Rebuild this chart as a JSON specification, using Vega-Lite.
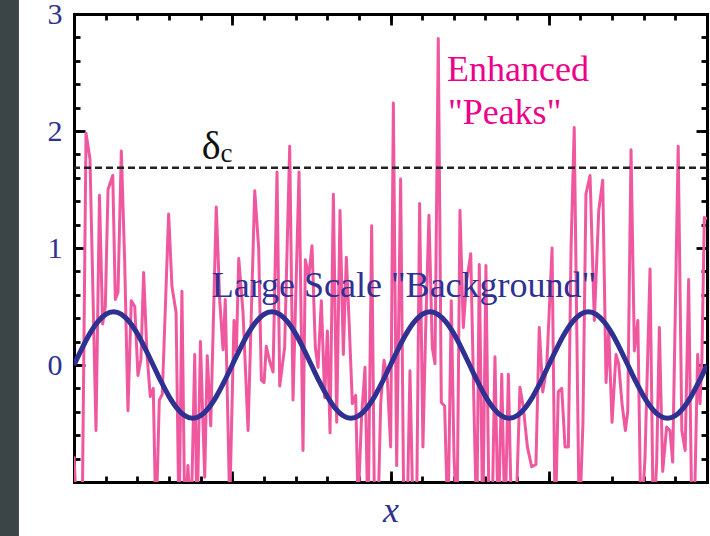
{
  "$schema": "https://vega.github.io/schema/vega-lite/v6.json",
  "width": 633,
  "height": 468,
  "autosize": {"type": "none"},
  "padding": {"left": 74, "top": 14, "right": 3, "bottom": 54},
  "background": "white",
  "config": {
    "view": {"stroke": null},
    "axis": {"grid": false, "domain": false, "labelFont": "Liberation Serif", "titleFont": "Liberation Serif", "tickColor": "black", "tickWidth": 2.8, "zindex": 1}
  },
  "resolve": {"axis": {"x": "independent", "y": "independent"}},
  "layer": [
    {
      "data": {"values": [{"left": -0.468, "right": -0.348, "low": -1.5, "high": 3.2}]},
      "mark": {"type": "rect", "color": "#3b4447", "clip": false},
      "encoding": {
        "x": {"field": "left", "type": "quantitative", "scale": {"domain": [0, 4], "nice": false, "zero": false},
          "axis": {"orient": "bottom", "values": [0, 1, 2, 3, 4], "tickSize": -11, "labels": false, "domain": true, "domainWidth": 3, "domainColor": "black", "domainCap": "square", "title": "x", "titleFontStyle": "italic", "titleFontWeight": "normal", "titleFontSize": 36, "titleColor": "#2E3192", "titlePadding": 10}},
        "x2": {"field": "right"},
        "y": {"field": "low", "type": "quantitative", "scale": {"domain": [-1, 3], "nice": false, "zero": false},
          "axis": {"orient": "left", "values": [0, 1, 2, 3], "tickSize": -11, "labelPadding": 23, "labelFontSize": 30, "labelColor": "#2E3192", "domain": true, "domainWidth": 3, "domainColor": "black", "domainCap": "square", "title": null}},
        "y2": {"field": "high"}
      }
    },
    {
      "data": {"values": [
        {"x": 0, "d": -0.78}, {"x": 0.022, "d": -1.4}, {"x": 0.051, "d": -1.4}, {"x": 0.076, "d": 1.98}, {"x": 0.101, "d": 1.76},
        {"x": 0.139, "d": -0.56}, {"x": 0.161, "d": 1.45}, {"x": 0.181, "d": 0.35}, {"x": 0.198, "d": 0.5}, {"x": 0.215, "d": 1.5},
        {"x": 0.245, "d": 1.62}, {"x": 0.261, "d": 0.56}, {"x": 0.278, "d": 0.62}, {"x": 0.299, "d": 1.83}, {"x": 0.32, "d": 0.9},
        {"x": 0.341, "d": -0.39}, {"x": 0.362, "d": 0.55}, {"x": 0.384, "d": 0.5}, {"x": 0.404, "d": -0.09}, {"x": 0.423, "d": 0.05},
        {"x": 0.44, "d": 0.79}, {"x": 0.461, "d": 0.1}, {"x": 0.482, "d": -0.27}, {"x": 0.501, "d": -0.2}, {"x": 0.518, "d": -1.4},
        {"x": 0.539, "d": -0.3}, {"x": 0.558, "d": -0.25}, {"x": 0.598, "d": 1.29}, {"x": 0.619, "d": 0.67}, {"x": 0.645, "d": 0.45},
        {"x": 0.664, "d": -1.4}, {"x": 0.682, "d": 0.63}, {"x": 0.701, "d": -1.4}, {"x": 0.72, "d": -0.86}, {"x": 0.739, "d": -1.4},
        {"x": 0.763, "d": 0.09}, {"x": 0.777, "d": -1.4}, {"x": 0.799, "d": 0.2}, {"x": 0.826, "d": -0.96}, {"x": 0.842, "d": 0.08},
        {"x": 0.864, "d": -0.52}, {"x": 0.899, "d": 1.35}, {"x": 0.921, "d": 0.55}, {"x": 0.942, "d": 0.13}, {"x": 0.956, "d": 0.56},
        {"x": 0.984, "d": -1.2}, {"x": 1.011, "d": 0.38}, {"x": 1.026, "d": 0.12}, {"x": 1.041, "d": 0.91}, {"x": 1.068, "d": 0.45},
        {"x": 1.1, "d": -0.56}, {"x": 1.142, "d": 1.49}, {"x": 1.167, "d": 1.0}, {"x": 1.184, "d": -0.13}, {"x": 1.201, "d": -0.15},
        {"x": 1.215, "d": 0.16}, {"x": 1.237, "d": 0.03}, {"x": 1.258, "d": -0.06}, {"x": 1.283, "d": 1.65}, {"x": 1.3, "d": -0.18},
        {"x": 1.331, "d": 0.15}, {"x": 1.363, "d": 1.87}, {"x": 1.384, "d": -0.3}, {"x": 1.422, "d": 1.65}, {"x": 1.447, "d": -0.73},
        {"x": 1.462, "d": 0.9}, {"x": 1.483, "d": 0.75}, {"x": 1.504, "d": 1.02}, {"x": 1.525, "d": 0.15}, {"x": 1.542, "d": -0.02},
        {"x": 1.563, "d": 0.55}, {"x": 1.584, "d": -0.28}, {"x": 1.601, "d": 0.29}, {"x": 1.618, "d": -0.58}, {"x": 1.639, "d": 1.46},
        {"x": 1.66, "d": -0.49}, {"x": 1.681, "d": 1.32}, {"x": 1.702, "d": 0.09}, {"x": 1.721, "d": 0.92}, {"x": 1.738, "d": 0.38},
        {"x": 1.759, "d": -0.33}, {"x": 1.78, "d": -0.26}, {"x": 1.795, "d": -1.2}, {"x": 1.817, "d": -0.45}, {"x": 1.839, "d": -0.02},
        {"x": 1.858, "d": -1.4}, {"x": 1.881, "d": 1.19}, {"x": 1.9, "d": -1.4}, {"x": 1.919, "d": -1.4}, {"x": 1.938, "d": -0.33},
        {"x": 1.959, "d": 0.04}, {"x": 1.98, "d": -0.12}, {"x": 2.001, "d": -0.7}, {"x": 2.018, "d": 2.24}, {"x": 2.039, "d": -0.86},
        {"x": 2.064, "d": 1.59}, {"x": 2.085, "d": -1.4}, {"x": 2.104, "d": -1.4}, {"x": 2.123, "d": -0.05}, {"x": 2.144, "d": -1.4},
        {"x": 2.164, "d": -1.4}, {"x": 2.184, "d": 1.38}, {"x": 2.205, "d": -0.7}, {"x": 2.222, "d": 0.29}, {"x": 2.243, "d": 1.28},
        {"x": 2.264, "d": 0.15}, {"x": 2.281, "d": 0.01}, {"x": 2.302, "d": 2.79}, {"x": 2.321, "d": -0.32}, {"x": 2.342, "d": -0.35},
        {"x": 2.363, "d": -1.4}, {"x": 2.384, "d": 0.55}, {"x": 2.401, "d": -0.76}, {"x": 2.42, "d": -1.4}, {"x": 2.439, "d": 1.32},
        {"x": 2.46, "d": 0.32}, {"x": 2.481, "d": 0.72}, {"x": 2.507, "d": 0.95}, {"x": 2.528, "d": -0.4}, {"x": 2.545, "d": -1.4},
        {"x": 2.561, "d": 0.86}, {"x": 2.583, "d": -1.4}, {"x": 2.603, "d": 0.85}, {"x": 2.624, "d": -1.4}, {"x": 2.641, "d": -1.4},
        {"x": 2.66, "d": 0.07}, {"x": 2.681, "d": -1.4}, {"x": 2.703, "d": -0.08}, {"x": 2.723, "d": -1.4}, {"x": 2.745, "d": -0.08},
        {"x": 2.766, "d": -1.4}, {"x": 2.79, "d": -1.4}, {"x": 2.818, "d": -0.19}, {"x": 2.839, "d": -0.36}, {"x": 2.865, "d": -0.7},
        {"x": 2.892, "d": -0.87}, {"x": 2.919, "d": -0.85}, {"x": 2.94, "d": 0.32}, {"x": 2.962, "d": -0.23}, {"x": 2.987, "d": -0.02},
        {"x": 3.021, "d": 1.0}, {"x": 3.041, "d": -1.4}, {"x": 3.06, "d": -0.23}, {"x": 3.082, "d": -0.2}, {"x": 3.103, "d": -0.7},
        {"x": 3.124, "d": -0.7}, {"x": 3.141, "d": 1.0}, {"x": 3.161, "d": 2.03}, {"x": 3.193, "d": -1.4}, {"x": 3.216, "d": -0.5},
        {"x": 3.235, "d": 1.46}, {"x": 3.261, "d": 1.62}, {"x": 3.288, "d": 0.38}, {"x": 3.316, "d": 1.32}, {"x": 3.341, "d": 1.58},
        {"x": 3.362, "d": -0.15}, {"x": 3.379, "d": 0.29}, {"x": 3.4, "d": -0.49}, {"x": 3.425, "d": 0.09}, {"x": 3.442, "d": 0.01},
        {"x": 3.463, "d": -0.33}, {"x": 3.484, "d": -0.56}, {"x": 3.499, "d": -0.4}, {"x": 3.52, "d": 1.84}, {"x": 3.541, "d": 0.12},
        {"x": 3.563, "d": 0.38}, {"x": 3.583, "d": -1.4}, {"x": 3.608, "d": -0.8}, {"x": 3.64, "d": 0.82}, {"x": 3.661, "d": -1.4},
        {"x": 3.682, "d": -0.83}, {"x": 3.699, "d": 0.32}, {"x": 3.72, "d": -0.91}, {"x": 3.745, "d": -0.53}, {"x": 3.766, "d": -0.56},
        {"x": 3.783, "d": -0.83}, {"x": 3.818, "d": 1.87}, {"x": 3.841, "d": -0.56}, {"x": 3.862, "d": -0.73}, {"x": 3.884, "d": 0.73},
        {"x": 3.905, "d": -1.4}, {"x": 3.924, "d": -1.0}, {"x": 3.941, "d": 0.09}, {"x": 3.956, "d": -0.33}, {"x": 3.968, "d": 0.06},
        {"x": 3.983, "d": 1.26}, {"x": 4.0, "d": 1.25}
      ]},
      "mark": {"type": "line", "color": "#EF589F", "strokeWidth": 3, "clip": true, "strokeJoin": "round"},
      "encoding": {
        "x": {"field": "x", "type": "quantitative", "scale": {"domain": [0, 4], "nice": false, "zero": false},
          "axis": {"orient": "bottom", "values": [0, 0.2, 0.4, 0.6, 0.8, 1, 1.2, 1.4, 1.6, 1.8, 2, 2.2, 2.4, 2.6, 2.8, 3, 3.2, 3.4, 3.6, 3.8, 4], "tickSize": -6, "labels": false, "title": null}},
        "y": {"field": "d", "type": "quantitative", "scale": {"domain": [-1, 3], "nice": false, "zero": false},
          "axis": {"orient": "left", "values": [-1, -0.8, -0.6, -0.4, -0.2, 0, 0.2, 0.4, 0.6, 0.8, 1, 1.2, 1.4, 1.6, 1.8, 2, 2.2, 2.4, 2.6, 2.8, 3], "tickSize": -6, "labels": false, "title": null}}
      }
    },
    {
      "data": {"values": [
        {"x": 0, "b": 0}, {"x": 0.05, "b": 0.141}, {"x": 0.1, "b": 0.268}, {"x": 0.15, "b": 0.368}, {"x": 0.2, "b": 0.433},
        {"x": 0.25, "b": 0.455}, {"x": 0.3, "b": 0.433}, {"x": 0.35, "b": 0.368}, {"x": 0.4, "b": 0.268}, {"x": 0.45, "b": 0.141},
        {"x": 0.5, "b": 0}, {"x": 0.55, "b": -0.141}, {"x": 0.6, "b": -0.268}, {"x": 0.65, "b": -0.368}, {"x": 0.7, "b": -0.433},
        {"x": 0.75, "b": -0.455}, {"x": 0.8, "b": -0.433}, {"x": 0.85, "b": -0.368}, {"x": 0.9, "b": -0.268}, {"x": 0.95, "b": -0.141},
        {"x": 1, "b": 0}, {"x": 1.05, "b": 0.141}, {"x": 1.1, "b": 0.268}, {"x": 1.15, "b": 0.368}, {"x": 1.2, "b": 0.433},
        {"x": 1.25, "b": 0.455}, {"x": 1.3, "b": 0.433}, {"x": 1.35, "b": 0.368}, {"x": 1.4, "b": 0.268}, {"x": 1.45, "b": 0.141},
        {"x": 1.5, "b": 0}, {"x": 1.55, "b": -0.141}, {"x": 1.6, "b": -0.268}, {"x": 1.65, "b": -0.368}, {"x": 1.7, "b": -0.433},
        {"x": 1.75, "b": -0.455}, {"x": 1.8, "b": -0.433}, {"x": 1.85, "b": -0.368}, {"x": 1.9, "b": -0.268}, {"x": 1.95, "b": -0.141},
        {"x": 2, "b": 0}, {"x": 2.05, "b": 0.141}, {"x": 2.1, "b": 0.268}, {"x": 2.15, "b": 0.368}, {"x": 2.2, "b": 0.433},
        {"x": 2.25, "b": 0.455}, {"x": 2.3, "b": 0.433}, {"x": 2.35, "b": 0.368}, {"x": 2.4, "b": 0.268}, {"x": 2.45, "b": 0.141},
        {"x": 2.5, "b": 0}, {"x": 2.55, "b": -0.141}, {"x": 2.6, "b": -0.268}, {"x": 2.65, "b": -0.368}, {"x": 2.7, "b": -0.433},
        {"x": 2.75, "b": -0.455}, {"x": 2.8, "b": -0.433}, {"x": 2.85, "b": -0.368}, {"x": 2.9, "b": -0.268}, {"x": 2.95, "b": -0.141},
        {"x": 3, "b": 0}, {"x": 3.05, "b": 0.141}, {"x": 3.1, "b": 0.268}, {"x": 3.15, "b": 0.368}, {"x": 3.2, "b": 0.433},
        {"x": 3.25, "b": 0.455}, {"x": 3.3, "b": 0.433}, {"x": 3.35, "b": 0.368}, {"x": 3.4, "b": 0.268}, {"x": 3.45, "b": 0.141},
        {"x": 3.5, "b": 0}, {"x": 3.55, "b": -0.141}, {"x": 3.6, "b": -0.268}, {"x": 3.65, "b": -0.368}, {"x": 3.7, "b": -0.433},
        {"x": 3.75, "b": -0.455}, {"x": 3.8, "b": -0.433}, {"x": 3.85, "b": -0.368}, {"x": 3.9, "b": -0.268}, {"x": 3.95, "b": -0.141},
        {"x": 4, "b": 0}
      ]},
      "mark": {"type": "line", "color": "#2E3192", "strokeWidth": 5, "interpolate": "monotone", "clip": true},
      "encoding": {
        "x": {"field": "x", "type": "quantitative", "scale": {"domain": [0, 4], "nice": false, "zero": false},
          "axis": {"orient": "top", "values": [0, 1, 2, 3, 4], "tickSize": -11, "labels": false, "domain": true, "domainWidth": 3, "domainColor": "black", "domainCap": "square", "title": null}},
        "y": {"field": "b", "type": "quantitative", "scale": {"domain": [-1, 3], "nice": false, "zero": false},
          "axis": {"orient": "right", "values": [-1, 0, 1, 2, 3], "tickSize": -11, "labels": false, "domain": true, "domainWidth": 3, "domainColor": "black", "domainCap": "square", "title": null}}
      }
    },
    {
      "data": {"values": [{"dc": 1.686}]},
      "mark": {"type": "rule", "color": "#222222", "strokeWidth": 2.6, "strokeDash": [7, 4]},
      "encoding": {
        "y": {"field": "dc", "type": "quantitative", "scale": {"domain": [-1, 3], "nice": false, "zero": false},
          "axis": {"orient": "right", "values": [-1, -0.8, -0.6, -0.4, -0.2, 0, 0.2, 0.4, 0.6, 0.8, 1, 1.2, 1.4, 1.6, 1.8, 2, 2.2, 2.4, 2.6, 2.8, 3], "tickSize": -6, "labels": false, "title": null}}
      }
    },
    {
      "data": {"values": [{"t": "Enhanced", "x": 2.357, "y": 2.427}, {"t": "\"Peaks\"", "x": 2.363, "y": 2.06}]},
      "mark": {"type": "text", "font": "Liberation Serif", "fontSize": 36, "color": "#EC008C", "align": "left", "baseline": "alphabetic"},
      "encoding": {
        "x": {"field": "x", "type": "quantitative", "scale": {"domain": [0, 4], "nice": false, "zero": false},
          "axis": {"orient": "top", "values": [0, 0.2, 0.4, 0.6, 0.8, 1, 1.2, 1.4, 1.6, 1.8, 2, 2.2, 2.4, 2.6, 2.8, 3, 3.2, 3.4, 3.6, 3.8, 4], "tickSize": -6, "labels": false, "title": null}},
        "y": {"field": "y", "type": "quantitative", "scale": {"domain": [-1, 3], "nice": false, "zero": false}, "axis": null},
        "text": {"field": "t"}
      }
    },
    {
      "data": {"values": [{"t": "Large Scale \"Background\"", "x": 0.87, "y": 0.584}]},
      "mark": {"type": "text", "font": "Liberation Serif", "fontSize": 36, "color": "#2E3192", "align": "left", "baseline": "alphabetic"},
      "encoding": {
        "x": {"field": "x", "type": "quantitative", "scale": {"domain": [0, 4], "nice": false, "zero": false}, "axis": null},
        "y": {"field": "y", "type": "quantitative", "scale": {"domain": [-1, 3], "nice": false, "zero": false}, "axis": null},
        "text": {"field": "t"}
      }
    },
    {
      "data": {"values": [{"t": "δ", "x": 0.807, "y": 1.761}]},
      "mark": {"type": "text", "font": "Liberation Serif", "fontSize": 40, "color": "#111111", "align": "left", "baseline": "alphabetic"},
      "encoding": {
        "x": {"field": "x", "type": "quantitative", "scale": {"domain": [0, 4], "nice": false, "zero": false}, "axis": null},
        "y": {"field": "y", "type": "quantitative", "scale": {"domain": [-1, 3], "nice": false, "zero": false}, "axis": null},
        "text": {"field": "t"}
      }
    },
    {
      "data": {"values": [{"t": "c", "x": 0.926, "y": 1.731}]},
      "mark": {"type": "text", "font": "Liberation Serif", "fontSize": 27, "color": "#111111", "align": "left", "baseline": "alphabetic"},
      "encoding": {
        "x": {"field": "x", "type": "quantitative", "scale": {"domain": [0, 4], "nice": false, "zero": false}, "axis": null},
        "y": {"field": "y", "type": "quantitative", "scale": {"domain": [-1, 3], "nice": false, "zero": false}, "axis": null},
        "text": {"field": "t"}
      }
    }
  ]
}
